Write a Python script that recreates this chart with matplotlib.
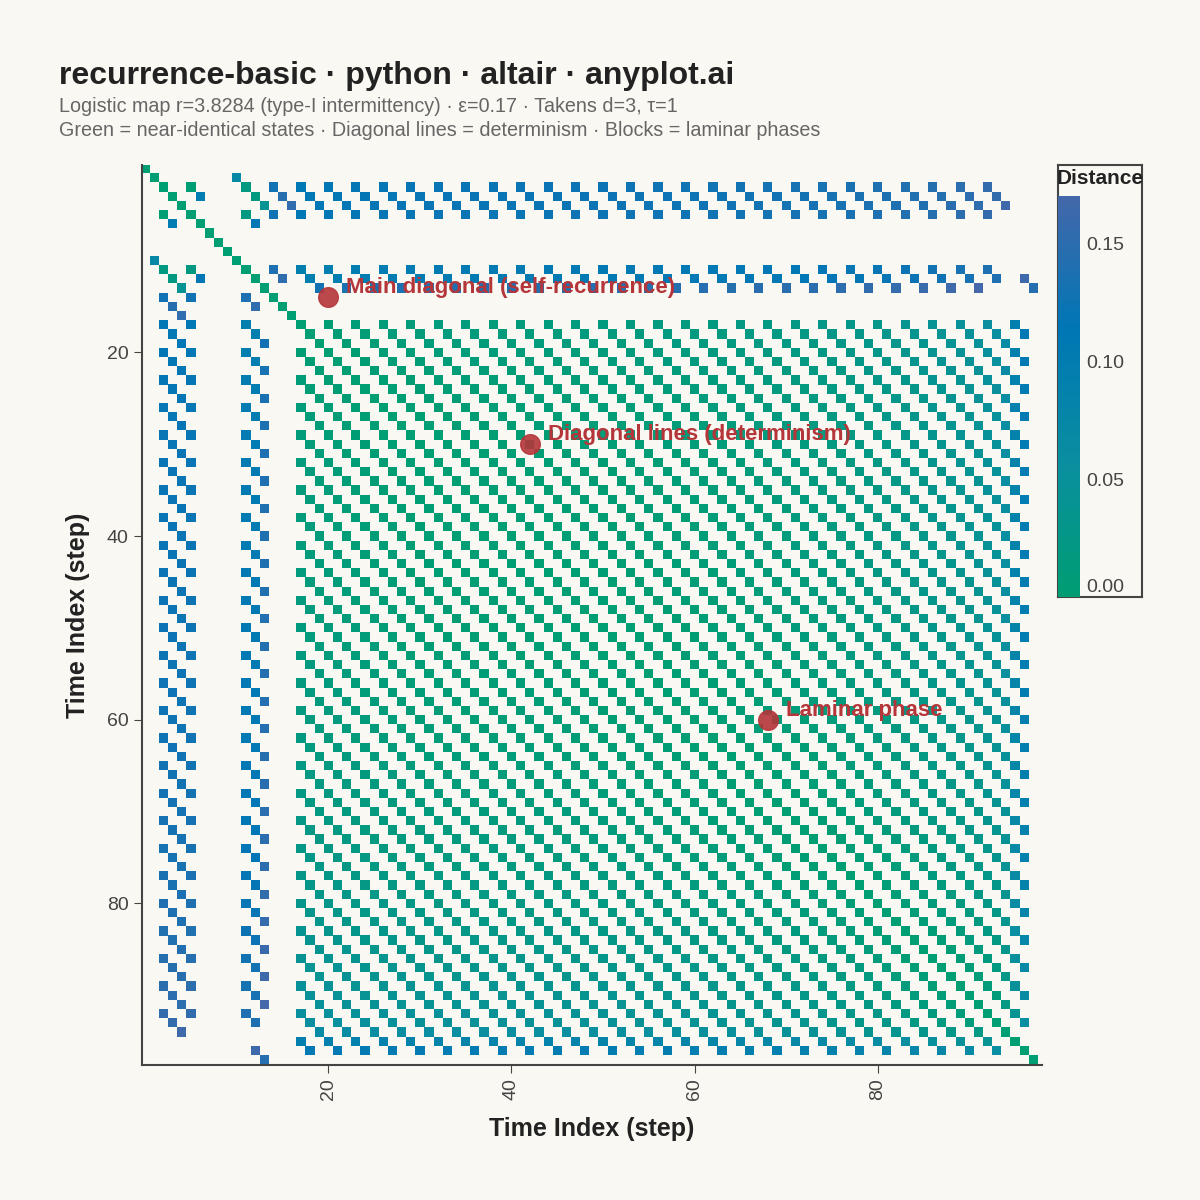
import numpy as np
import matplotlib
matplotlib.use("Agg")
import matplotlib.pyplot as plt
from matplotlib.colors import LinearSegmentedColormap, Normalize

plt.rcParams['font.family'] = ['Liberation Sans', 'DejaVu Sans']

# Logistic-map time series (approximated from the recurrence structure)
series = [0.42, 0.93, 0.88, 0.23, 0.58, 0.88, 0.23, 0.58, 0.78, 0.68,
          0.86, 0.89, 0.22, 0.57, 0.89, 0.27, 0.70, 0.952, 0.168, 0.522,
          0.953, 0.166, 0.520, 0.954, 0.164, 0.518, 0.954, 0.163, 0.517, 0.955,
          0.162, 0.516, 0.955, 0.161, 0.515, 0.955, 0.161, 0.515, 0.956, 0.160,
          0.515, 0.955, 0.161, 0.514, 0.956, 0.160, 0.514, 0.956, 0.160, 0.513,
          0.956, 0.159, 0.513, 0.956, 0.159, 0.512, 0.956, 0.158, 0.511, 0.956,
          0.158, 0.510, 0.955, 0.157, 0.509, 0.955, 0.156, 0.507, 0.955, 0.155,
          0.506, 0.955, 0.154, 0.504, 0.954, 0.153, 0.502, 0.954, 0.151, 0.499,
          0.953, 0.149, 0.496, 0.952, 0.147, 0.492, 0.951, 0.144, 0.487, 0.950,
          0.141, 0.482, 0.948, 0.137, 0.475, 0.945, 0.120, 0.440, 0.900, 0.330]
dim = 3
tau = 1
epsilon = 0.17
ann_x = [20, 42, 68]
ann_y = [14, 30, 60]
ann_text = ["Main diagonal (self-recurrence)", "Diagonal lines (determinism)", "Laminar phase"]

x = np.array(series)
n = len(x) - (dim - 1) * tau
emb = np.column_stack([x[k * tau:k * tau + n] for k in range(dim)])
D = np.sqrt(((emb[:, None, :] - emb[None, :, :]) ** 2).sum(-1))
ii, jj = np.where(D < epsilon)
dist = D[ii, jj]

bg = "#FAF8F2"
cmap = LinearSegmentedColormap.from_list("rp", ["#009E73", "#0A8FA0", "#0077B6", "#4468AA"])
norm = Normalize(0, epsilon)

fig = plt.figure(figsize=(12, 12), dpi=100, facecolor=bg)
ax = fig.add_axes([0.118, 0.1125, 0.75, 0.75], facecolor=bg)
ax.scatter(jj, ii, c=dist, cmap=cmap, norm=norm, marker="s", s=44, linewidths=0)
ax.set_xlim(-0.4, n - 0.1)
ax.set_ylim(n - 0.4, -0.4)
for s in ["top", "right"]:
    ax.spines[s].set_visible(False)
for s in ["left", "bottom"]:
    ax.spines[s].set_color("#444444")
    ax.spines[s].set_linewidth(1.5)
ax.set_xticks([20, 40, 60, 80])
ax.set_yticks([20, 40, 60, 80])
ax.tick_params(colors="#444444", labelsize=14, length=6)
plt.setp(ax.get_xticklabels(), rotation=90)
ax.set_xlabel("Time Index (step)", fontsize=18, fontweight="bold", color="#222222", labelpad=12)
ax.set_ylabel("Time Index (step)", fontsize=18, fontweight="bold", color="#222222", labelpad=12)

for xa, ya, t in zip(ann_x, ann_y, ann_text):
    ax.scatter([xa], [ya], s=200, color="#B5363A", alpha=0.9, zorder=5)
    ax.annotate(t, (xa, ya), xytext=(13, 3), textcoords="offset points",
                fontsize=16, fontweight="bold", color="#B5363A", zorder=6)

fig.text(0.049, 0.93, "recurrence-basic · python · altair · anyplot.ai", fontsize=23,
         fontweight="bold", color="#222222")
fig.text(0.049, 0.907, "Logistic map r=3.8284 (type-I intermittency) · ε=0.17 · Takens d=3, τ=1",
         fontsize=14.2, color="#666666")
fig.text(0.049, 0.8865, "Green = near-identical states · Diagonal lines = determinism · Blocks = laminar phases",
         fontsize=14.2, color="#666666")

# colorbar legend box
box = fig.add_axes([0.8817, 0.5025, 0.07, 0.36], facecolor=bg)
box.set_xticks([]); box.set_yticks([])
for s in box.spines.values():
    s.set_color("#444444"); s.set_linewidth(1.5)
box.text(0.5, 0.99, "Distance", transform=box.transAxes, ha="center", va="top",
         fontsize=15, fontweight="bold", color="#222222")
cax = fig.add_axes([0.8817, 0.5025, 0.018, 0.334])
grad = np.linspace(0, epsilon, 256).reshape(-1, 1)
cax.imshow(grad, aspect="auto", cmap=cmap, norm=norm, origin="lower",
           extent=[0, 1, 0, epsilon])
cax.set_xticks([])
cax.yaxis.tick_right()
cax.set_yticks([0.005, 0.05, 0.10, 0.15])
cax.set_yticklabels(["0.00", "0.05", "0.10", "0.15"])
cax.tick_params(length=0, labelsize=14, colors="#444444", pad=5)
for s in cax.spines.values():
    s.set_visible(False)

fig.savefig("out.png", dpi=100, facecolor=bg)
